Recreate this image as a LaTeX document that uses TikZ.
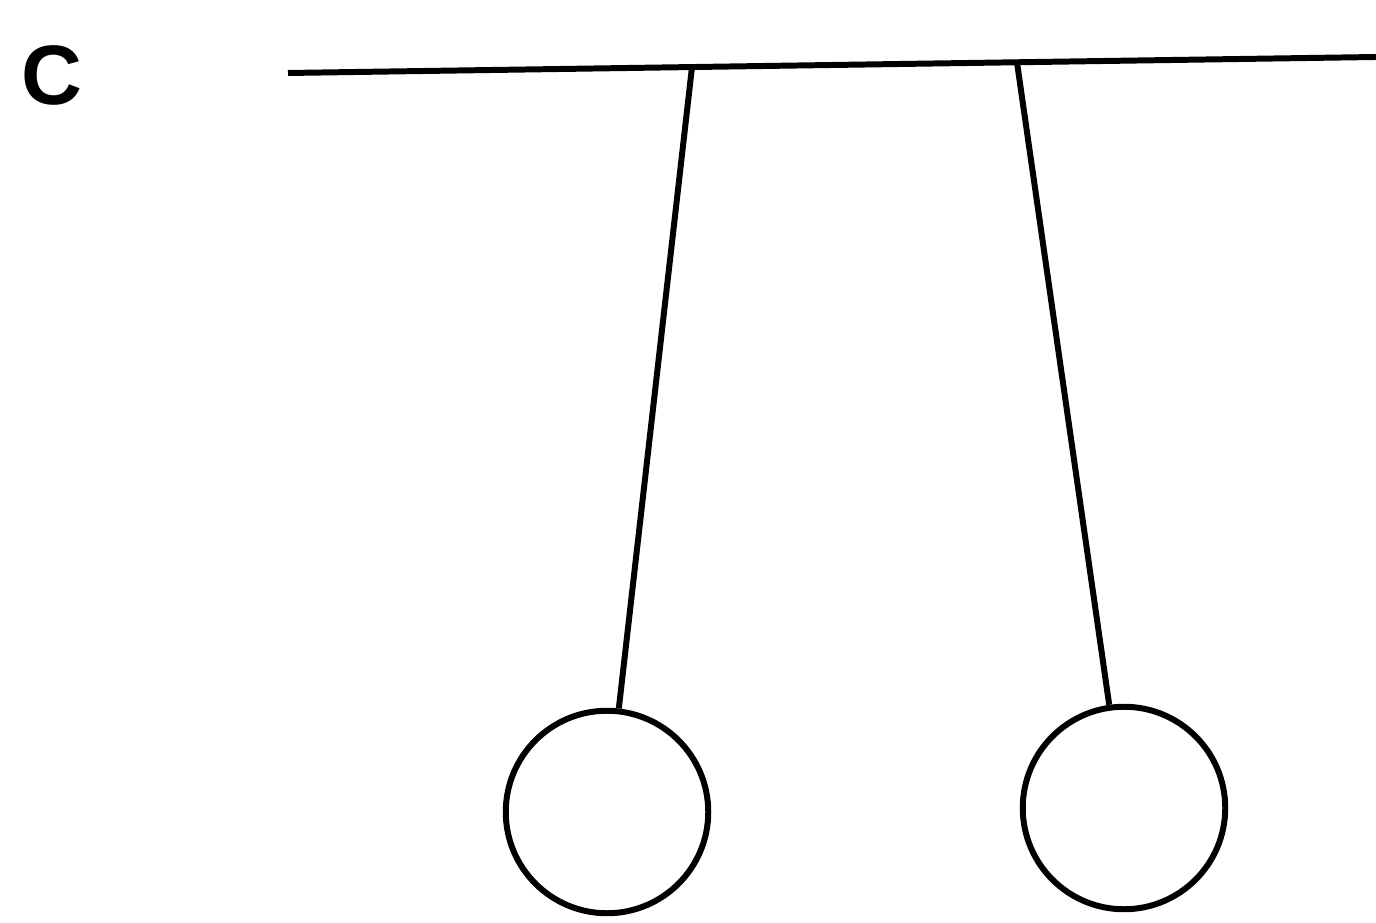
\documentclass[tikz,border=0pt]{standalone}
\usepackage{fontspec}
\setmainfont{Liberation Sans}

\tikzset{
	rod/.style={line width=3.4pt},
	bob/.style={draw, circle, line width=3.4pt, inner sep=0pt, minimum size=4.05cm}
}

\begin{document}
\begin{tikzpicture}

	\useasboundingbox (0,0) rectangle (27.52,18.44);

	% Bar ends and hanging points
	\coordinate (barL) at (5.76,16.98);
	\coordinate (barR) at (27.52,17.30);
	\coordinate (hangL) at (13.84,17.10);
	\coordinate (hangR) at (20.34,17.19);

	% Bar
	\draw[rod] (barL) -- (barR);

	% Bobs
	\node[bob] (bobL) at (12.14,2.20) {};
	\node[bob] (bobR) at (22.48,2.28) {};

	% Strings
	\draw[rod] (hangL) -- (bobL);
	\draw[rod] (hangR) -- (bobR);

	% Label
	\node (label) at (1.04,16.94) {\fontsize{48}{52}\selectfont\bfseries C};

\end{tikzpicture}
\end{document}
